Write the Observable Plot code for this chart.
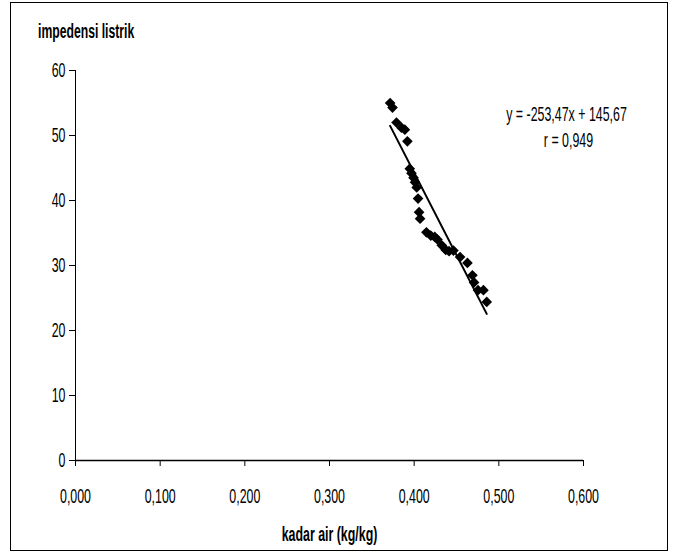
<!DOCTYPE html>
<html>
<head>
<meta charset="utf-8">
<script src="https://cdn.jsdelivr.net/npm/d3@7"></script>
<script src="https://cdn.jsdelivr.net/npm/@observablehq/plot@0.6"></script>
<style>
  body { margin: 0; background: #fff; }
  #wrap { position: relative; width: 673px; height: 555px; overflow: hidden; }
  #frame { position: absolute; left: 10px; top: 2px; width: 658px; height: 549px; border: 1px solid #000; box-sizing: border-box; pointer-events: none; }
  #title { position: absolute; left: 38px; top: 20px; font: bold 20px "Liberation Sans", Arial, sans-serif; transform: scaleX(0.61); transform-origin: left center; white-space: nowrap; }
  svg { font-family: "Liberation Sans", Arial, sans-serif; }
</style>
</head>
<body>
<div id="wrap">
  <div id="title">impedensi listrik</div>
  <div id="chart"></div>
  <div id="frame"></div>
</div>
<script>
const kadarAir = [0.3716,0.3744,0.3791,0.3850,0.3890,0.3920,0.3948,0.3968,0.3992,0.4010,0.4030,0.4046,0.4058,0.4070,0.4145,0.4196,0.4243,0.4275,0.4326,0.4373,0.4412,0.4464,0.4542,0.4629,0.4688,0.4707,0.4754,0.4818,0.4857];
const impedensi = [55.0,54.3,52.0,51.2,50.9,49.1,44.9,44.2,43.5,42.8,42.0,40.3,38.2,37.2,35.1,34.6,34.4,34.0,33.1,32.4,32.2,32.3,31.3,30.4,28.5,27.4,26.2,26.2,24.4];
const slope = -253.47;
const intercept = 145.67;
const xTicks = [0, 0.1, 0.2, 0.3, 0.4, 0.5, 0.6];
const yTicks = [0, 10, 20, 30, 40, 50, 60];
const eqLabel = "y = -253,47x + 145,67";
const rLabel = "r = 0,949";
const xLabel = "kadar air (kg/kg)";

const points = kadarAir.map((x, i) => ({x, y: impedensi[i]}));
const [x0, x1] = d3.extent(kadarAir);
const fit = [x0, x1].map(x => ({x, y: slope * x + intercept}));
const fmtX = d => d.toFixed(3).replace(".", ",");

const chart = Plot.plot({
  width: 673,
  height: 555,
  marginLeft: 75,
  marginRight: 90,
  marginTop: 70,
  marginBottom: 95,
  style: {fontSize: "20px", background: "transparent"},
  x: {domain: [0, 0.6], label: null},
  y: {domain: [0, 60], label: null},
  marks: [
    Plot.axisX({ticks: xTicks, tickFormat: fmtX, tickSize: 6, tickPadding: 22, stroke: "#000", fontSize: 20, fill: "#000"}),
    Plot.axisY({ticks: yTicks, tickSize: 6, tickPadding: 4, stroke: "#000", fontSize: 20, fill: "#000"}),
    Plot.ruleX([0], {stroke: "#000", strokeWidth: 1}),
    Plot.ruleY([0], {stroke: "#000", strokeWidth: 1.5}),
    Plot.line(fit, {x: "x", y: "y", stroke: "#000", strokeWidth: 2}),
    Plot.dot(points, {x: "x", y: "y", symbol: "diamond2", r: 4.8, fill: "#000", stroke: "none"}),
    Plot.text([eqLabel], {frameAnchor: "top-right", textAnchor: "middle", lineAnchor: "middle", dx: -17, dy: 44, fontSize: 20, fill: "#000"}),
    Plot.text([rLabel], {frameAnchor: "top-right", textAnchor: "middle", lineAnchor: "middle", dx: -15, dy: 70, fontSize: 20, fill: "#000"}),
    Plot.text([xLabel], {frameAnchor: "bottom", lineAnchor: "middle", dy: 74, fontSize: 20, fontWeight: "bold", fill: "#000"})
  ]
});

// condense all text horizontally around its anchor point (narrow-font look)
chart.querySelectorAll("text").forEach(el => {
  const bold = el.getAttribute("font-weight") === "bold";
  const k = bold ? 0.71 : 0.62;
  const tx = +(el.getAttribute("x") || 0);
  el.removeAttribute("x");
  const t = el.getAttribute("transform") || "";
  el.setAttribute("transform", `${t} translate(${tx},0) scale(${k},1)`);
});
document.getElementById("chart").appendChild(chart);
</script>
</body>
</html>
